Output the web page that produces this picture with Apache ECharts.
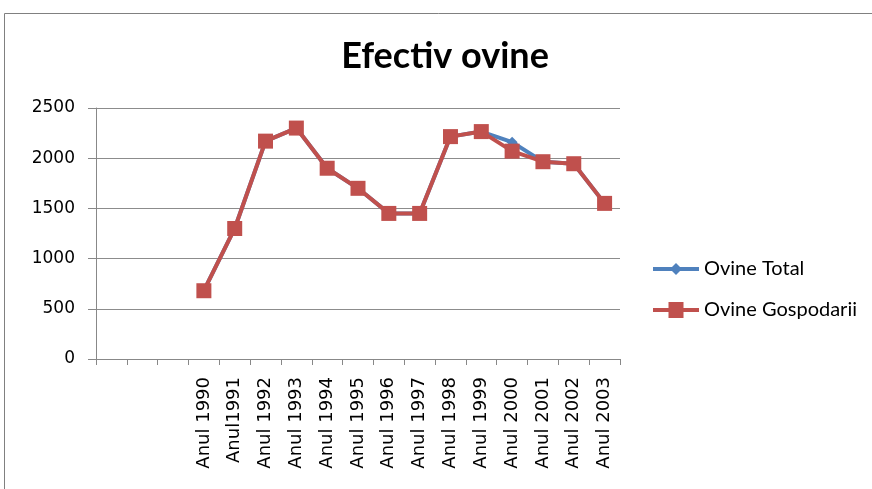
<!DOCTYPE html>
<html><head><meta charset="utf-8">
<script src="https://cdn.jsdelivr.net/npm/echarts@6/dist/echarts.min.js"></script>
<style>html,body{margin:0;padding:0;background:#fff}#c{width:872px;height:489px}</style>
</head><body><div id="c"></div>
<script>
const categories = ['', '', '', 'Anul 1990', 'Anul1991', 'Anul 1992', 'Anul 1993', 'Anul 1994', 'Anul 1995', 'Anul 1996', 'Anul 1997', 'Anul 1998', 'Anul 1999', 'Anul 2000', 'Anul 2001', 'Anul 2002', 'Anul 2003'];
const ovineTotal = [null, null, null, 680, 1300, 2170, 2300, 1900, 1700, 1450, 1450, 2215, 2265, 2160, 1965, 1945, 1550];
const ovineGospodarii = [null, null, null, 680, 1300, 2170, 2300, 1900, 1700, 1450, 1450, 2215, 2265, 2070, 1965, 1945, 1550];
const yTicks = {min: 0, max: 2500, interval: 500};

const iconTotal = 'path://M0,6 H19 L23,2 L27,6 H46 V10 H27 L23,14 L19,10 H0 Z';
const iconGosp = 'path://M0,6 H15.5 V0 H30.5 V6 H46 V10 H30.5 V16 H15.5 V10 H0 Z';

const chart = echarts.init(document.getElementById('c'));
chart.setOption({
  animation: false,
  backgroundColor: '#fff',
  graphic: [{type: 'rect', shape: {x: 4.5, y: 13.5, width: 880, height: 490}, style: {fill: 'none', stroke: '#808080', lineWidth: 1}, silent: true}],
  title: {text: 'Efectiv ovine', left: 440, top: 33, textAlign: 'center',
    textStyle: {fontFamily: 'Lato', fontWeight: 'bold', fontSize: 36, color: '#000'}},
  legend: {orient: 'vertical', left: 653, top: 259, padding: 0, itemGap: 21, itemWidth: 46, itemHeight: 16,
    symbolKeepAspect: true,
    textStyle: {fontFamily: 'Lato', fontSize: 20, lineHeight: 16, color: '#000'},
    data: [{name: 'Ovine Total', icon: iconTotal}, {name: 'Ovine Gospodarii', icon: iconGosp}]},
  grid: {left: 96, right: 252, top: 108, bottom: 130, containLabel: false},
  xAxis: {type: 'category', data: categories, boundaryGap: true,
    axisLine: {lineStyle: {color: '#888', width: 1}},
    axisTick: {show: true, interval: 0, length: 6, lineStyle: {color: '#888'}},
    axisLabel: {interval: 0, rotate: 90, fontFamily: 'DejaVu Sans', fontSize: 18, color: '#000', margin: 18}},
  yAxis: {type: 'value', min: yTicks.min, max: yTicks.max, interval: yTicks.interval,
    axisLine: {show: true, lineStyle: {color: '#888', width: 1}},
    axisTick: {show: true, length: 8, lineStyle: {color: '#888'}},
    splitLine: {lineStyle: {color: '#8c8c8c', width: 1}},
    axisLabel: {fontFamily: 'DejaVu Sans', fontSize: 17, color: '#000', margin: 21, formatter: v => String(v)}},
  series: [
    {name: 'Ovine Total', type: 'line', data: ovineTotal, color: '#4F81BD',
      lineStyle: {width: 4, color: '#4F81BD'}, symbol: 'diamond', symbolSize: 11,
      itemStyle: {color: '#4F81BD'}},
    {name: 'Ovine Gospodarii', type: 'line', data: ovineGospodarii, color: '#C0504D',
      lineStyle: {width: 4, color: '#C0504D'}, symbol: 'rect', symbolSize: 15,
      itemStyle: {color: '#C0504D'}}
  ]
});
</script></body></html>
